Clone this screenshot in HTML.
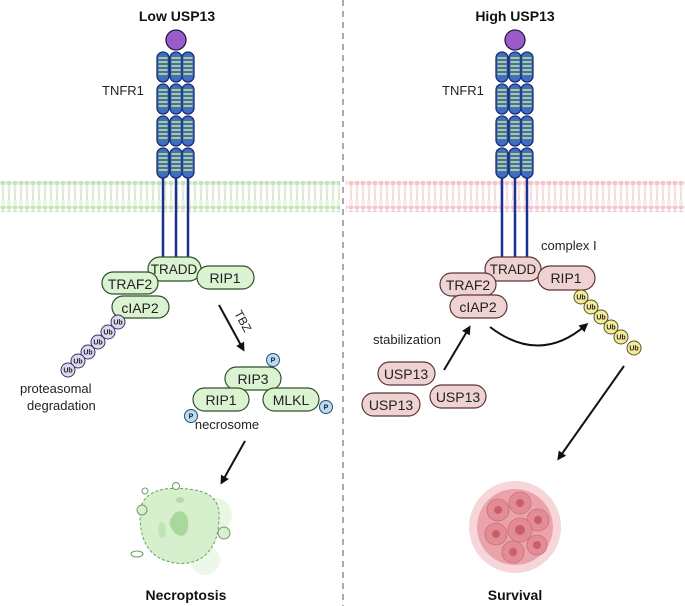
<!DOCTYPE html>
<html><head><meta charset="utf-8"><style>
html,body{margin:0;padding:0;background:#fff}
svg{display:block}
text{font-family:"Liberation Sans",sans-serif}
</style></head><body>
<svg width="685" height="606" viewBox="0 0 685 606" xmlns="http://www.w3.org/2000/svg">
<defs>
<pattern id="dg" x="0" y="0" width="6" height="6" patternUnits="userSpaceOnUse"><circle cx="3" cy="3" r="2.6" fill="#c6e2b8"/></pattern>
<pattern id="dp" x="0" y="0" width="6" height="6" patternUnits="userSpaceOnUse"><circle cx="3" cy="3" r="2.6" fill="#f1c5ca"/></pattern>
<pattern id="tg" x="0" y="0" width="6" height="20" patternUnits="userSpaceOnUse"><path d="M2 0 L2.5 20 M4 0 L3.5 20" stroke="#d2e7c8" stroke-width="0.9"/></pattern>
<pattern id="tp" x="0" y="0" width="6" height="20" patternUnits="userSpaceOnUse"><path d="M2 0 L2.5 20 M4 0 L3.5 20" stroke="#f3d5d9" stroke-width="0.9"/></pattern>
<g id="seg"><rect x="-6" y="0" width="12" height="30" rx="6" fill="#3d6fc4" stroke="#1b2f6e" stroke-width="1.3"/>
<path d="M-4.5 6h9M-4.5 10h9M-4.5 14h9M-4.5 18h9M-4.5 22h9" stroke="#d7e86a" stroke-width="1.4"/></g>
<g id="col"><use href="#seg" y="52"/><use href="#seg" y="84"/><use href="#seg" y="116"/><use href="#seg" y="148"/>
<line x1="0" y1="178" x2="0" y2="260" stroke="#1b2f8e" stroke-width="2.5"/></g>
<g id="rec"><use href="#col" x="-13"/><use href="#col" x="0"/><use href="#col" x="12"/>
<circle cx="0" cy="40" r="10" fill="#9a5cc9" stroke="#2a1a4a" stroke-width="1.3"/></g>
<marker id="ah" markerWidth="9" markerHeight="9" refX="6" refY="4.5" orient="auto" markerUnits="userSpaceOnUse"><path d="M0 0 L9 4.5 L0 9 z" fill="#111"/></marker>
</defs>

<rect x="0" y="181" width="340" height="6" fill="url(#dg)"/>
<rect x="0" y="187" width="340" height="19" fill="url(#tg)"/>
<rect x="0" y="206" width="340" height="6" fill="url(#dg)"/>
<rect x="346" y="181" width="339" height="6" fill="url(#dp)"/>
<rect x="346" y="187" width="339" height="19" fill="url(#tp)"/>
<rect x="346" y="206" width="339" height="6" fill="url(#dp)"/>

<line x1="343" y1="0" x2="343" y2="606" stroke="#555" stroke-width="1" stroke-dasharray="6,5"/>

<text x="177" y="21" font-size="14" font-weight="bold" text-anchor="middle" fill="#111">Low USP13</text>
<text x="515" y="21" font-size="14" font-weight="bold" text-anchor="middle" fill="#111">High USP13</text>

<use href="#rec" x="176"/>
<use href="#rec" x="515"/>
<text x="102" y="95" font-size="13" fill="#222">TNFR1</text>
<text x="442" y="95" font-size="13" fill="#222">TNFR1</text>

<g font-size="14" text-anchor="middle" fill="#222" stroke-width="1.2">
<g fill="#dcf3d2" stroke="#2f4f2a">
<rect x="148" y="257" width="53" height="24" rx="12"/>
<rect x="197" y="266" width="57" height="23" rx="11.5"/>
<rect x="102" y="272" width="56" height="22" rx="11"/>
<rect x="112" y="296" width="57" height="22" rx="11"/>
<rect x="225" y="367" width="56" height="23" rx="11.5"/>
<rect x="193" y="388" width="56" height="23" rx="11.5"/>
<rect x="263" y="388" width="56" height="23" rx="11.5"/>
</g>
<g fill="#222">
<text x="174" y="274" font-size="13.5">TRADD</text><text x="225" y="283">RIP1</text>
<text x="130" y="289">TRAF2</text><text x="140" y="313">cIAP2</text>
<text x="253" y="384">RIP3</text><text x="221" y="405">RIP1</text><text x="291" y="405">MLKL</text>
</g>
</g>
<g fill="#dcd8f2" stroke="#3a3160" stroke-width="1">
<circle cx="118" cy="322" r="7"/><circle cx="108" cy="332" r="7"/><circle cx="98" cy="342" r="7"/><circle cx="88" cy="352" r="7"/><circle cx="78" cy="361" r="7"/><circle cx="68" cy="370" r="7"/>
</g>
<g font-size="7" font-weight="bold" text-anchor="middle" fill="#222">
<text x="118" y="324.5">Ub</text><text x="108" y="334.5">Ub</text><text x="98" y="344.5">Ub</text><text x="88" y="354.5">Ub</text><text x="78" y="363.5">Ub</text><text x="68" y="372.5">Ub</text>
</g>
<text x="20" y="393" font-size="13" fill="#222">proteasomal</text>
<text x="27" y="410" font-size="13" fill="#222">degradation</text>
<line x1="219" y1="305" x2="243" y2="349" stroke="#111" stroke-width="2" marker-end="url(#ah)"/>
<text x="0" y="0" font-size="12" fill="#222" transform="translate(234,313) rotate(62)">TBZ</text>
<g fill="#b8dcf3" stroke="#2b4e74" stroke-width="1">
<circle cx="273" cy="360" r="6.5"/><circle cx="326" cy="407" r="6.5"/><circle cx="191" cy="416" r="6.5"/>
</g>
<g font-size="7" font-weight="bold" text-anchor="middle" fill="#222">
<text x="273" y="362.5">P</text><text x="326" y="409.5">P</text><text x="191" y="418.5">P</text>
</g>
<text x="227" y="429" font-size="13" text-anchor="middle" fill="#222">necrosome</text>
<line x1="245" y1="441" x2="222" y2="482" stroke="#111" stroke-width="2" marker-end="url(#ah)"/>

<g>
<circle cx="215" cy="515" r="17" fill="#eaf6e4"/>
<circle cx="205" cy="560" r="15" fill="#eef8ea"/>
<path d="M140 515 C140 490 165 485 195 490 C222 495 220 512 218 530 C214 555 195 568 170 562 C145 556 140 535 140 515 Z" fill="#d6efcc" stroke="#6aa064" stroke-width="1" stroke-dasharray="3,2"/>
<path d="M172 517 C176 508 186 510 188 520 C190 535 182 540 174 532 C170 528 168 522 172 517 Z" fill="#a9d89c"/>
<ellipse cx="162" cy="530" rx="4" ry="8" fill="#c0e4b2"/>
<ellipse cx="180" cy="500" rx="4" ry="3" fill="#b5dca8"/>
<circle cx="142" cy="510" r="5" fill="#d8f0cf" stroke="#6aa064"/>
<circle cx="224" cy="533" r="6" fill="#d8f0cf" stroke="#6aa064"/>
<circle cx="176" cy="486" r="3.5" fill="#fff" stroke="#6aa064"/>
<circle cx="145" cy="491" r="3" fill="#fff" stroke="#6aa064"/>
<ellipse cx="137" cy="554" rx="6" ry="3" fill="#fff" stroke="#6aa064"/>
</g>
<text x="186" y="600" font-size="14" font-weight="bold" text-anchor="middle" fill="#111">Necroptosis</text>

<text x="541" y="250" font-size="13" fill="#222">complex I</text>
<g font-size="14" text-anchor="middle" stroke-width="1.2">
<g fill="#efd3d3" stroke="#5a3535">
<rect x="485" y="257" width="56" height="24" rx="12"/>
<rect x="538" y="266" width="57" height="24" rx="12"/>
<rect x="440" y="273" width="56" height="23" rx="11.5"/>
<rect x="450" y="295" width="57" height="23" rx="11.5"/>
<rect x="378" y="362" width="57" height="23" rx="11.5"/>
<rect x="430" y="385" width="56" height="23" rx="11.5"/>
<rect x="362" y="393" width="58" height="23" rx="11.5"/>
</g>
<g fill="#222">
<text x="513" y="274" font-size="13.5">TRADD</text><text x="566" y="283">RIP1</text>
<text x="468" y="290">TRAF2</text><text x="478" y="312">cIAP2</text>
<text x="406" y="379">USP13</text><text x="458" y="402">USP13</text><text x="391" y="410">USP13</text>
</g>
</g>
<g fill="#f3ec9c" stroke="#5a5320" stroke-width="1">
<circle cx="581" cy="297" r="7"/><circle cx="591" cy="307" r="7"/><circle cx="601" cy="317" r="7"/><circle cx="611" cy="327" r="7"/><circle cx="621" cy="337" r="7"/><circle cx="634" cy="348" r="7"/>
</g>
<g font-size="7" font-weight="bold" text-anchor="middle" fill="#222">
<text x="581" y="299.5">Ub</text><text x="591" y="309.5">Ub</text><text x="601" y="319.5">Ub</text><text x="611" y="329.5">Ub</text><text x="621" y="339.5">Ub</text><text x="634" y="350.5">Ub</text>
</g>
<text x="373" y="344" font-size="13" fill="#222">stabilization</text>
<line x1="444" y1="370" x2="469" y2="328" stroke="#111" stroke-width="2" marker-end="url(#ah)"/>
<path d="M490 327 Q540 365 586 325" fill="none" stroke="#111" stroke-width="2" marker-end="url(#ah)"/>
<line x1="624" y1="366" x2="559" y2="458" stroke="#111" stroke-width="2" marker-end="url(#ah)"/>

<g>
<circle cx="515" cy="527" r="46" fill="#f6d6d9"/>
<circle cx="515" cy="527" r="38" fill="#eaa3aa"/>
<g fill="#e38c95" stroke="#c9707a" stroke-width="0.8">
<circle cx="498" cy="510" r="11"/><circle cx="520" cy="503" r="11"/><circle cx="538" cy="520" r="11"/><circle cx="520" cy="530" r="12"/><circle cx="496" cy="534" r="11"/><circle cx="513" cy="552" r="11"/><circle cx="537" cy="545" r="10"/>
</g>
<g fill="#c95f6b">
<circle cx="498" cy="510" r="4"/><circle cx="520" cy="503" r="4"/><circle cx="538" cy="520" r="4"/><circle cx="520" cy="530" r="5"/><circle cx="496" cy="534" r="4"/><circle cx="513" cy="552" r="4"/><circle cx="537" cy="545" r="4"/>
</g>
</g>
<text x="515" y="600" font-size="14" font-weight="bold" text-anchor="middle" fill="#111">Survival</text>
</svg>
</body></html>
